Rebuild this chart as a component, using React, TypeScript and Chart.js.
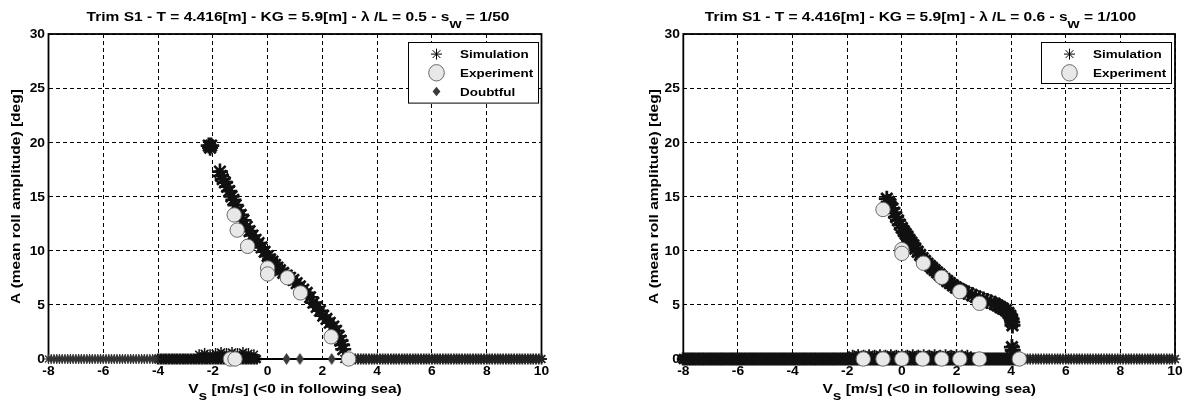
import React, { useEffect, useRef } from "react";
import { Chart, registerables } from "chart.js";
Chart.register(...registerables);

// ---------- axes ----------
const xTicks = [-8, -6, -4, -2, 0, 2, 4, 6, 8, 10];
const yTicks = [0, 5, 10, 15, 20, 25, 30];

// ---------- LEFT panel (lambda/L = 0.5, sw = 1/50) ----------
const simUpperL_X = [-2.15, -2.1, -2.06, -1.74, -1.7, -1.64, -1.56, -1.48, -1.4, -1.32, -1.25, -1.17, -1.08, -0.98, -0.88, -0.76, -0.66, -0.55, -0.44, -0.33, -0.22, -0.11, 0.0, 0.09, 0.18, 0.27, 0.36, 0.45, 0.57, 0.7, 0.82, 0.94, 1.06, 1.18, 1.3, 1.43, 1.55, 1.67, 1.79, 1.91, 2.03, 2.15, 2.27, 2.4, 2.5, 2.6, 2.66, 2.72, 2.76];
const simUpperL_Y = [19.7, 19.5, 19.7, 17.3, 16.9, 16.6, 16.3, 15.9, 15.5, 15.0, 14.7, 14.2, 13.7, 13.3, 12.8, 12.2, 11.8, 11.4, 11.0, 10.7, 10.3, 9.9, 9.5, 9.2, 9.0, 8.7, 8.45, 8.2, 7.95, 7.7, 7.5, 7.3, 7.0, 6.7, 6.4, 6.1, 5.7, 5.2, 4.8, 4.45, 4.0, 3.7, 3.35, 3.0, 2.6, 2.1, 1.7, 1.3, 0.9];
const simZeroFarL_X = [-8.0, -7.9, -7.8, -7.7, -7.6, -7.5, -7.4, -7.3, -7.2, -7.1, -7.0, -6.9, -6.8, -6.7, -6.6, -6.5, -6.4, -6.3, -6.2, -6.1, -6.0, -5.9, -5.8, -5.7, -5.6, -5.5, -5.4, -5.3, -5.2, -5.1, -5.0, -4.9, -4.8, -4.7, -4.6, -4.5, -4.4, -4.3, -4.2, -4.1];
const simZeroNearL_X = [-4.0, -3.9, -3.8, -3.7, -3.6, -3.5, -3.4, -3.3, -3.2, -3.1, -3.0, -2.9, -2.8, -2.7, -2.6, -2.5, -2.4, -2.3, -2.2, -2.1, -2.0, -1.9, -1.8, -1.7, -1.6, -1.5, -1.4, -1.3, -1.2, -1.1, -1.0, -0.9, -0.8, -0.7, -0.6, -0.5, -0.4];
const simZeroHeadL_X = [2.8, 2.9, 3.0, 3.1, 3.2, 3.3, 3.4, 3.5, 3.6, 3.7, 3.8, 3.9, 4.0, 4.1, 4.2, 4.3, 4.4, 4.5, 4.6, 4.7, 4.8, 4.9, 5.0, 5.1, 5.2, 5.3, 5.4, 5.5, 5.6, 5.7, 5.8, 5.9, 6.0, 6.1, 6.2, 6.3, 6.4, 6.5, 6.6, 6.7, 6.8, 6.9, 7.0, 7.1, 7.2, 7.3, 7.4, 7.5, 7.6, 7.7, 7.8, 7.9, 8.0, 8.1, 8.2, 8.3, 8.4, 8.5, 8.6, 8.7, 8.8, 8.9, 9.0, 9.1, 9.2, 9.3, 9.4, 9.5, 9.6, 9.7, 9.8, 9.9, 10.0];
const simRaisedL_X = [-2.5, -2.3, -2.1, -1.9, -1.7, -1.5, -1.3, -1.1, -0.9, -0.7, -0.5];
const simRaisedL_Y = [0.4, 0.5, 0.4, 0.5, 0.6, 0.5, 0.6, 0.5, 0.6, 0.5, 0.4];
const expL_X = [-1.22, -1.11, -0.73, 0.0, 0.0, 0.72, 1.2, 2.32, 2.96, -1.36, -1.19];
const expL_Y = [13.3, 11.9, 10.4, 8.4, 7.85, 7.5, 6.1, 2.05, 0, 0, 0];
const doubtL_X = [0.69, 1.18, 2.34];
const doubtL_Y = [0, 0, 0];
const zeroSegL_X = [-0.4, 2.8];
const zeroSegL_Y = [0, 0];

// ---------- RIGHT panel (lambda/L = 0.6, sw = 1/100) ----------
const simUpperR_X = [-0.55, -0.48, -0.42, -0.35, -0.28, -0.21, -0.14, -0.07, 0.0, 0.07, 0.14, 0.21, 0.28, 0.35, 0.42, 0.49, 0.58, 0.67, 0.76, 0.85, 0.94, 1.03, 1.11, 1.2, 1.29, 1.38, 1.46, 1.56, 1.66, 1.76, 1.87, 1.98, 2.09, 2.19, 2.29, 2.43, 2.57, 2.7, 2.84, 2.98, 3.12, 3.26, 3.4, 3.5, 3.6, 3.7, 3.81, 3.9, 3.97, 4.02, 4.04, 4.05, 4.03, 4.06];
const simUpperR_Y = [14.8, 14.5, 14.3, 13.9, 13.5, 13.1, 12.8, 12.4, 12.1, 11.8, 11.55, 11.3, 11.0, 10.75, 10.5, 10.2, 9.9, 9.6, 9.3, 9.05, 8.8, 8.6, 8.4, 8.2, 8.0, 7.8, 7.6, 7.4, 7.2, 7.0, 6.8, 6.6, 6.45, 6.3, 6.2, 6.05, 5.9, 5.75, 5.6, 5.5, 5.35, 5.25, 5.1, 4.95, 4.8, 4.65, 4.5, 4.25, 4.0, 3.7, 3.4, 3.1, 1.1, 0.8];
const simZeroR_X = [-8.0, -7.9, -7.8, -7.7, -7.6, -7.5, -7.4, -7.3, -7.2, -7.1, -7.0, -6.9, -6.8, -6.7, -6.6, -6.5, -6.4, -6.3, -6.2, -6.1, -6.0, -5.9, -5.8, -5.7, -5.6, -5.5, -5.4, -5.3, -5.2, -5.1, -5.0, -4.9, -4.8, -4.7, -4.6, -4.5, -4.4, -4.3, -4.2, -4.1, -4.0, -3.9, -3.8, -3.7, -3.6, -3.5, -3.4, -3.3, -3.2, -3.1, -3.0, -2.9, -2.8, -2.7, -2.6, -2.5, -2.4, -2.3, -2.2, -2.1, -2.0, -1.9, -1.8, -1.7, -1.6, -1.5, -1.4, -1.3, -1.2, -1.1, -1.0, -0.9, -0.8, -0.7, -0.6, -0.5, -0.4, -0.3, -0.2, -0.1, 0.0, 0.1, 0.2, 0.3, 0.4, 0.5, 0.6, 0.7, 0.8, 0.9, 1.0, 1.1, 1.2, 1.3, 1.4, 1.5, 1.6, 1.7, 1.8, 1.9, 2.0, 2.1, 2.2, 2.3, 2.4, 2.5, 2.6, 2.7, 2.8, 2.9, 3.0, 3.1, 3.2, 3.3, 3.4, 3.5, 3.6, 3.7, 3.8, 3.9, 4.0, 4.1, 4.2, 4.3];
const simZeroTailR_X = [4.4, 4.5, 4.6, 4.7, 4.8, 4.9, 5.0, 5.1, 5.2, 5.3, 5.4, 5.5, 5.6, 5.7, 5.8, 5.9, 6.0, 6.1, 6.2, 6.3, 6.4, 6.5, 6.6, 6.7, 6.8, 6.9, 7.0, 7.1, 7.2, 7.3, 7.4, 7.5, 7.6, 7.7, 7.8, 7.9, 8.0, 8.1, 8.2, 8.3, 8.4, 8.5, 8.6, 8.7, 8.8, 8.9, 9.0, 9.1, 9.2, 9.3, 9.4, 9.5, 9.6, 9.7, 9.8, 9.9, 10.0];
const simRaisedR_X = [-1.8, -1.6, -1.4, -1.2, -1.0, -0.8, -0.6, -0.4, -0.2, 0.0, 0.2, 0.4, 0.6, 0.8, 1.0, 1.2, 1.4, 1.6, 1.8, 2.0, 2.2, 2.4];
const simRaisedR_Y = [0.3, 0.35, 0.3, 0.35, 0.3, 0.35, 0.3, 0.35, 0.3, 0.35, 0.3, 0.35, 0.3, 0.35, 0.3, 0.35, 0.3, 0.35, 0.3, 0.35, 0.3, 0.3];
const expR_X = [-0.69, 0.0, 0.0, 0.79, 1.46, 2.12, 2.84, -1.41, -0.69, 0.0, 0.76, 1.46, 2.12, 2.84, 4.3];
const expR_Y = [13.8, 10.1, 9.75, 8.84, 7.54, 6.22, 5.14, 0, 0, 0, 0, 0, 0, 0, 0];

// ---------- texts ----------
const titleL = [{ t: "Trim S1 - T = 4.416[m] - KG = 5.9[m] - \u03bb /L = 0.5 - s" }, { t: "w", sub: true }, { t: " = 1/50" }];
const titleR = [{ t: "Trim S1 - T = 4.416[m] - KG = 5.9[m] - \u03bb /L = 0.6 - s" }, { t: "w", sub: true }, { t: " = 1/100" }];
const xLabel = [{ t: "V" }, { t: "s", sub: true }, { t: " [m/s] (<0 in following sea)" }];
const yLabel = [{ t: "A (mean roll amplitude) [deg]" }];
const legendL = [{ label: "Simulation", kind: "star" }, { label: "Experiment", kind: "circle" }, { label: "Doubtful", kind: "diamond" }];
const legendR = [{ label: "Simulation", kind: "star" }, { label: "Experiment", kind: "circle" }];

const FONT = '"Liberation Sans", Arial, Helvetica, sans-serif';
const SX = 1.15;

type Seg = { t: string; sub?: boolean };

const pts = (xs: number[], ys: number[]) => xs.map((x, i) => ({ x, y: ys[i] }));
const onZero = (xs: number[]) => xs.map((x) => ({ x, y: 0 }));

function drawRich(ctx: CanvasRenderingContext2D, segs: Seg[], x: number, y: number, size: number, align: string) {
  ctx.save();
  const main = `bold ${size}px ${FONT}`;
  let total = 0;
  const widths = segs.map((s) => {
    ctx.font = main;
    const w = ctx.measureText(s.t).width * SX;
    total += w;
    return w;
  });
  let cx = align === "center" ? x - total / 2 : align === "right" ? x - total : x;
  segs.forEach((s, i) => {
    ctx.save();
    ctx.font = main;
    ctx.translate(cx, y + (s.sub ? size * 0.55 : 0));
    ctx.scale(SX, 1);
    ctx.textAlign = "left";
    ctx.textBaseline = "alphabetic";
    ctx.fillStyle = "#000";
    ctx.fillText(s.t, 0, 0);
    ctx.restore();
    cx += widths[i];
  });
  ctx.restore();
}

function makeDiamond(w: number, h: number) {
  const c = document.createElement("canvas");
  c.width = w;
  c.height = h;
  const g = c.getContext("2d")!;
  g.fillStyle = "#3a3a3a";
  g.beginPath();
  g.moveTo(w / 2, 0);
  g.lineTo(w - 0.5, h / 2);
  g.lineTo(w / 2, h);
  g.lineTo(0.5, h / 2);
  g.closePath();
  g.fill();
  return c;
}

function drawStar(ctx: CanvasRenderingContext2D, x: number, y: number, r: number) {
  ctx.save();
  ctx.strokeStyle = "#000";
  ctx.lineWidth = 1;
  ctx.beginPath();
  for (let k = 0; k < 4; k++) {
    const a = (k * Math.PI) / 4;
    ctx.moveTo(x - Math.cos(a) * r, y - Math.sin(a) * r);
    ctx.lineTo(x + Math.cos(a) * r, y + Math.sin(a) * r);
  }
  ctx.stroke();
  ctx.restore();
}

function drawLegend(ctx: CanvasRenderingContext2D, area: any, items: any[]) {
  const w = 130;
  const rowH = 18.7;
  const h = items.length === 3 ? 60.6 : 41;
  const x0 = Math.round(area.right - 4 - w) + 0.5;
  const y0 = Math.round(area.top + 7.7) + 0.5;
  ctx.save();
  ctx.fillStyle = "#fff";
  ctx.fillRect(x0, y0, w, h);
  ctx.strokeStyle = "#000";
  ctx.lineWidth = 1;
  ctx.strokeRect(x0, y0, w, h);
  items.forEach((it, i) => {
    const cy = y0 + 11.6 + i * rowH;
    const mx = x0 + 28;
    if (it.kind === "star") drawStar(ctx, mx, cy, 5.5);
    else if (it.kind === "circle") {
      ctx.beginPath();
      ctx.ellipse(mx, cy, 7.8, 8.2, 0, 0, Math.PI * 2);
      ctx.fillStyle = "#e8e8e8";
      ctx.fill();
      ctx.strokeStyle = "#6a6a6a";
      ctx.stroke();
    } else {
      ctx.beginPath();
      ctx.moveTo(mx, cy - 4.8);
      ctx.lineTo(mx + 3.9, cy);
      ctx.lineTo(mx, cy + 4.8);
      ctx.lineTo(mx - 3.9, cy);
      ctx.closePath();
      ctx.fillStyle = "#3a3a3a";
      ctx.fill();
    }
    drawRich(ctx, [{ t: it.label }], x0 + 51.5, cy + 4.3, 11.7, "left");
  });
  ctx.restore();
}

function decorPlugin(spec: any) {
  return {
    id: "decor",
    beforeDatasetsDraw(chart: any) {
      const { ctx, chartArea: a } = chart;
      ctx.save();
      ctx.strokeStyle = "#000";
      ctx.lineWidth = 1.8;
      ctx.strokeRect(a.left, a.top, a.right - a.left, a.bottom - a.top);
      ctx.restore();
    },
    afterDraw(chart: any) {
      const { ctx, chartArea: a } = chart;
      const xs = chart.scales.x;
      const ys = chart.scales.y;
      xTicks.forEach((v) => drawRich(ctx, [{ t: String(v) }], xs.getPixelForValue(v), a.bottom + 15.5, 12, "center"));
      yTicks.forEach((v) => drawRich(ctx, [{ t: String(v) }], a.left - 3.5, ys.getPixelForValue(v) + 4.2, 12, "right"));
      drawRich(ctx, spec.title, spec.titleX, 21, 13.5, "center");
      drawRich(ctx, xLabel, (a.left + a.right) / 2, 393, 13.5, "center");
      ctx.save();
      ctx.translate(spec.yLabelX, (a.top + a.bottom) / 2);
      ctx.rotate(-Math.PI / 2);
      drawRich(ctx, yLabel, 0, 0, 13.5, "center");
      ctx.restore();
      drawLegend(ctx, a, spec.legend);
    },
  };
}

function starSet(data: any[], r: number, bw: number, color = "#000") {
  return {
    type: "scatter",
    data,
    showLine: false,
    pointStyle: "star",
    pointRadius: r,
    pointBorderWidth: bw,
    pointBorderColor: color,
    pointBackgroundColor: color,
    clip: false,
    order: 4,
  };
}

function buildConfig(spec: any, datasets: any[]) {
  const gridOpts = { color: "#000", lineWidth: 1, drawTicks: false };
  return {
    type: "scatter",
    data: { datasets },
    options: {
      animation: false,
      responsive: false,
      devicePixelRatio: 1,
      events: [],
      layout: { padding: { left: 0, right: spec.padRight, top: 34, bottom: 0 } },
      plugins: { legend: { display: false }, tooltip: { enabled: false }, title: { display: false } },
      scales: {
        x: {
          type: "linear",
          min: -8,
          max: 10,
          ticks: { display: false },
          afterBuildTicks: (s: any) => { s.ticks = xTicks.map((value) => ({ value })); },
          grid: gridOpts,
          border: { display: false, dash: [4, 3] },
          afterFit: (s: any) => { s.height = 42; },
        },
        y: {
          type: "linear",
          min: 0,
          max: 30,
          ticks: { display: false },
          afterBuildTicks: (s: any) => { s.ticks = yTicks.map((value) => ({ value })); },
          grid: gridOpts,
          border: { display: false, dash: [4, 3] },
          afterFit: (s: any) => { s.width = spec.yAxisWidth; },
        },
      },
    },
    plugins: [decorPlugin(spec)],
  };
}

function leftDatasets() {
  const diamond = makeDiamond(9, 12);
  return [
    { type: "scatter", data: pts(expL_X, expL_Y), pointStyle: "circle", pointRadius: 7.2, pointBackgroundColor: "#e8e8e8", pointBorderColor: "#6a6a6a", pointBorderWidth: 1, clip: false, order: 1 },
    { type: "scatter", data: pts(doubtL_X, doubtL_Y), pointStyle: diamond, pointRadius: 6, clip: false, order: 2 },
    { type: "scatter", data: pts(zeroSegL_X, zeroSegL_Y), showLine: true, borderColor: "#000", borderWidth: 2, pointRadius: 0, clip: false, order: 3 },
    starSet(pts(simUpperL_X, simUpperL_Y), 8, 2.6, "#111"),
    starSet(onZero(simZeroFarL_X), 5, 1.2, "#333"),
    starSet(onZero(simZeroNearL_X), 5.5, 2.6, "#111"),
    starSet(pts(simRaisedL_X, simRaisedL_Y), 5.5, 1.5, "#111"),
    starSet(onZero(simZeroHeadL_X), 5.5, 1.8, "#222"),
  ];
}

function rightDatasets() {
  return [
    { type: "scatter", data: pts(expR_X, expR_Y), pointStyle: "circle", pointRadius: 7.2, pointBackgroundColor: "#e8e8e8", pointBorderColor: "#6a6a6a", pointBorderWidth: 1, clip: false, order: 1 },
    starSet(pts(simUpperR_X, simUpperR_Y), 8, 2.8, "#111"),
    starSet(onZero(simZeroR_X), 6.5, 3.2, "#111"),
    starSet(pts(simRaisedR_X, simRaisedR_Y), 6, 1.8, "#111"),
    starSet(onZero(simZeroTailR_X), 5.5, 1.5, "#222"),
  ];
}

const leftSpec = { yAxisWidth: 48.5, padRight: 51.5, title: titleL, titleX: 298, yLabelX: 20, legend: legendL };
const rightSpec = { yAxisWidth: 90.3, padRight: 11, title: titleR, titleX: 327.5, yLabelX: 65, legend: legendR };

function Panel({ spec, make }: { spec: any; make: () => any[] }) {
  const ref = useRef<HTMLCanvasElement>(null);
  useEffect(() => {
    const chart = new Chart(ref.current as HTMLCanvasElement, buildConfig(spec, make()) as any);
    return () => chart.destroy();
  }, []);
  return <canvas ref={ref} width={593} height={401} style={{ display: "block", width: 593, height: 401 }} />;
}

export default function App() {
  return (
    <div style={{ position: "fixed", left: 0, top: 0, width: 1186, height: 401, display: "flex", background: "#fff" }}>
      <Panel spec={leftSpec} make={leftDatasets} />
      <Panel spec={rightSpec} make={rightDatasets} />
    </div>
  );
}
